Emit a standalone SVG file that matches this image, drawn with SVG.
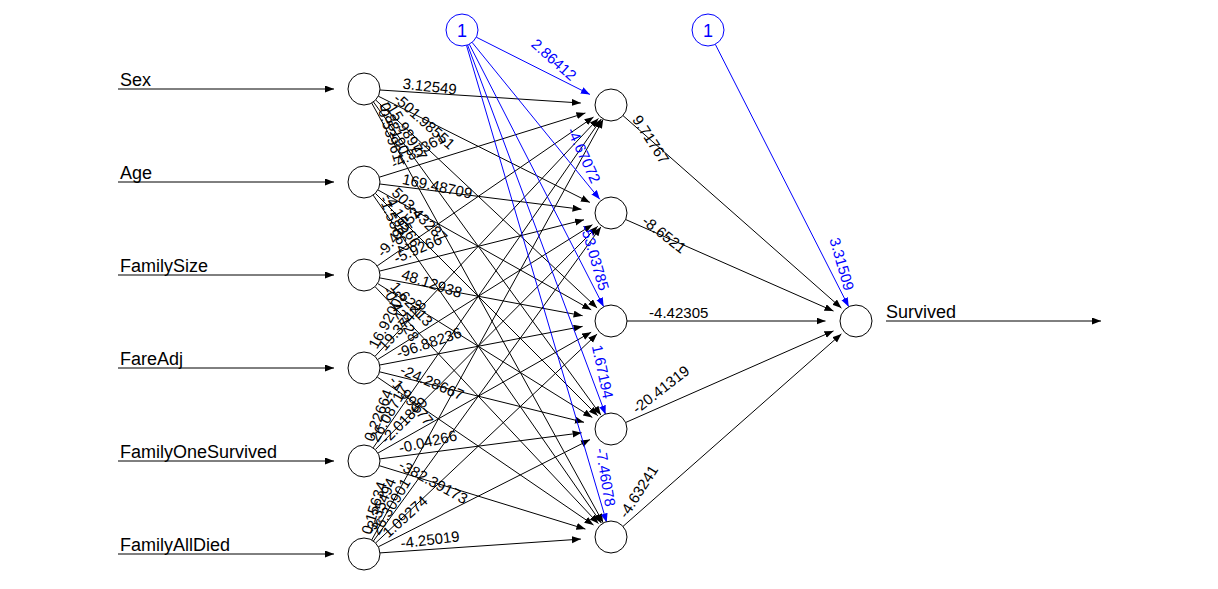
<svg xmlns="http://www.w3.org/2000/svg" width="1218" height="589" viewBox="0 0 1218 589">
<style>
text{font-family:"Liberation Sans",Arial,Helvetica,sans-serif}
.n{fill:#fff;stroke:#000;stroke-width:1}
.b{fill:#fff;stroke:#0000ff;stroke-width:1}
.lbl{font-size:18px;fill:#000}
.w{font-size:15px;fill:#000}
.wb{font-size:15px;fill:#0000ff;text-anchor:end}
.bt{font-size:18px;fill:#0000ff;text-anchor:middle}
.c{stroke:#000;stroke-width:1;fill:none;marker-end:url(#ak)}
.cb{stroke:#0000ff;stroke-width:1;fill:none;marker-end:url(#abl)}
</style>
<defs>
<marker id="ak" markerWidth="10" markerHeight="8" refX="9" refY="3.5" orient="auto" markerUnits="userSpaceOnUse"><path d="M0,0 L9,3.5 L0,7 z" fill="#000"/></marker>
<marker id="abl" markerWidth="10" markerHeight="8" refX="9" refY="3.5" orient="auto" markerUnits="userSpaceOnUse"><path d="M0,0 L9,3.5 L0,7 z" fill="#0000ff"/></marker>
</defs>
<rect width="1218" height="589" fill="#fff"/>
<g id="connectors">
<line class="c" x1="118" y1="89" x2="334" y2="89"/>
<line class="c" x1="118" y1="182" x2="334" y2="182"/>
<line class="c" x1="118" y1="275" x2="334" y2="275"/>
<line class="c" x1="118" y1="368" x2="334" y2="368"/>
<line class="c" x1="118" y1="461" x2="334" y2="461"/>
<line class="c" x1="118" y1="554" x2="334" y2="554"/>
<line class="c" x1="886" y1="321" x2="1101" y2="321"/>
<line class="c" x1="380" y1="90" x2="580.8" y2="103"/>
<line class="c" x1="378.3" y1="96.2" x2="589.9" y2="202.4"/>
<line class="c" x1="375.7" y1="100" x2="597.1" y2="307.9"/>
<line class="c" x1="373.4" y1="101.9" x2="600.9" y2="415.1"/>
<line class="c" x1="371.7" y1="103" x2="603.2" y2="522.8"/>
<line class="c" x1="379.3" y1="177.2" x2="585.4" y2="113"/>
<line class="c" x1="379.9" y1="184" x2="581.5" y2="209.3"/>
<line class="c" x1="377.9" y1="189.9" x2="591.2" y2="309.8"/>
<line class="c" x1="375.3" y1="193.3" x2="597.7" y2="415.7"/>
<line class="c" x1="373.1" y1="195.1" x2="601.3" y2="523"/>
<line class="c" x1="377.2" y1="265.9" x2="593.5" y2="117.1"/>
<line class="c" x1="379.5" y1="271.1" x2="584" y2="219.8"/>
<line class="c" x1="379.7" y1="277.9" x2="582.6" y2="315.7"/>
<line class="c" x1="377.6" y1="283.5" x2="592.3" y2="417.4"/>
<line class="c" x1="375" y1="286.6" x2="598.4" y2="523.6"/>
<line class="c" x1="375" y1="356.3" x2="598.4" y2="118.4"/>
<line class="c" x1="377.6" y1="359.5" x2="592.4" y2="224.7"/>
<line class="c" x1="379.7" y1="365" x2="582.6" y2="326.4"/>
<line class="c" x1="379.5" y1="371.8" x2="584" y2="422.3"/>
<line class="c" x1="377.2" y1="377" x2="593.5" y2="525"/>
<line class="c" x1="373.1" y1="447.9" x2="601.3" y2="119"/>
<line class="c" x1="375.3" y1="449.6" x2="597.7" y2="226.3"/>
<line class="c" x1="377.9" y1="453.1" x2="591.2" y2="332.2"/>
<line class="c" x1="379.9" y1="458.9" x2="581.6" y2="432.8"/>
<line class="c" x1="379.3" y1="465.7" x2="585.4" y2="529.1"/>
<line class="c" x1="371.7" y1="540" x2="603.2" y2="119.3"/>
<line class="c" x1="373.4" y1="541" x2="600.9" y2="226.9"/>
<line class="c" x1="375.6" y1="543" x2="597.1" y2="334.1"/>
<line class="c" x1="378.3" y1="546.8" x2="590" y2="439.6"/>
<line class="c" x1="380" y1="552.9" x2="580.9" y2="539.1"/>
<line class="c" x1="623" y1="115.6" x2="841.4" y2="308.1"/>
<line class="c" x1="625.6" y1="219.5" x2="833.5" y2="311.1"/>
<line class="c" x1="627" y1="321" x2="825.5" y2="321"/>
<line class="c" x1="625.6" y1="422.5" x2="833.5" y2="330.9"/>
<line class="c" x1="623" y1="526.4" x2="841.4" y2="333.9"/>
<line class="cb" x1="476.3" y1="37.2" x2="589.9" y2="94.4"/>
<line class="cb" x1="472.1" y1="42.4" x2="599.8" y2="199.3"/>
<line class="cb" x1="469.3" y1="44.2" x2="603.7" y2="306.7"/>
<line class="cb" x1="467.6" y1="45" x2="605.6" y2="414.5"/>
<line class="cb" x1="466.5" y1="45.4" x2="606.7" y2="522.4"/>
<line class="cb" x1="715.3" y1="44.3" x2="848.7" y2="306.7"/>
<g id="weights">
<text class="w" transform="translate(401.8 91.5) rotate(6.5)" y="-3">3.12549</text>
<text class="w" transform="translate(390.4 102.3) rotate(41.4)" y="-3">-501.98551</text>
<text class="w" transform="translate(381.4 105.4) rotate(58.8)" y="-3">-15.98977</text>
<text class="w" transform="translate(376.6 106.4) rotate(67.5)" y="-3">0.88190</text>
<text class="w" transform="translate(373.75 106.75) rotate(72.6)" y="-3">-0.53961</text>
<text class="w" transform="translate(396 172) rotate(-28.7)" y="-3">-4.85361</text>
<text class="w" transform="translate(400.9 186.6) rotate(12.4)" y="-3">169.48709</text>
<text class="w" transform="translate(388.75 196) rotate(44.7)" y="-3">503.43287</text>
<text class="w" transform="translate(380.6 198.6) rotate(60.4)" y="-3">-4.16566</text>
<text class="w" transform="translate(376.1 199.5) rotate(68.4)" y="-3">-1.58862</text>
<text class="w" transform="translate(385.9 259.9) rotate(-50.4)" y="-3">-9.41052</text>
<text class="w" transform="translate(397.75 266.5) rotate(-23.8)" y="-3">-5.9266</text>
<text class="w" transform="translate(399.5 281.6) rotate(18.1)" y="-3">48.12938</text>
<text class="w" transform="translate(387.4 289.5) rotate(47.6)" y="-3">1.62213</text>
<text class="w" transform="translate(379.75 291.75) rotate(61.8)" y="-3">-0.42128</text>
<text class="w" transform="translate(379.75 351.25) rotate(-61.9)" y="-3">16.92003</text>
<text class="w" transform="translate(387.25 353.4) rotate(-47.8)" y="-3">19.37428</text>
<text class="w" transform="translate(399.5 361.25) rotate(-18.5)" y="-3">-96.88236</text>
<text class="w" transform="translate(397.75 376.4) rotate(23.5)" y="-3">-24.28667</text>
<text class="w" transform="translate(385.9 383) rotate(50.3)" y="-3">-1.99577</text>
<text class="w" transform="translate(376.1 443.5) rotate(-68.5)" y="-3">0.22664</text>
<text class="w" transform="translate(380.6 444.4) rotate(-60.5)" y="-3">26.08717</text>
<text class="w" transform="translate(388.75 447) rotate(-44.9)" y="-3">-2.01869</text>
<text class="w" transform="translate(400.75 456.25) rotate(-12.8)" y="-3">-0.04266</text>
<text class="w" transform="translate(396 470.9) rotate(28.4)" y="-3">-382.39173</text>
<text class="w" transform="translate(373.75 536.1) rotate(-72.6)" y="-3">0.15634</text>
<text class="w" transform="translate(376.6 536.6) rotate(-67.6)" y="-3">-3.35494</text>
<text class="w" transform="translate(381.4 537.6) rotate(-58.9)" y="-3">26.30901</text>
<text class="w" transform="translate(390.25 540.75) rotate(-41.7)" y="-3">1.09274</text>
<text class="w" transform="translate(401.6 551.4) rotate(-6.9)" y="-3">-4.25019</text>
<text class="w" transform="translate(629.25 121.1) rotate(57.2)" y="-3">9.71767</text>
<text class="w" transform="translate(639.1 225.4) rotate(37.8)" y="-3">-8.6521</text>
<text class="w" transform="translate(649.1 321)" y="-3">-4.42305</text>
<text class="w" transform="translate(639.1 416.6) rotate(-37.8)" y="-3">-20.41319</text>
<text class="w" transform="translate(629.25 520.9) rotate(-57.2)" y="-3">-4.63241</text>
<text class="wb" transform="translate(568.8 83.8) rotate(41.5)" y="-3">2.86412</text>
<text class="wb" transform="translate(588.7 185.6) rotate(65.2)" y="-3">-4.67072</text>
<text class="wb" transform="translate(596.4 292.4) rotate(73.8)" y="-3">-53.03785</text>
<text class="wb" transform="translate(600.2 400) rotate(78)" y="-3">1.67194</text>
<text class="wb" transform="translate(602.4 507.8) rotate(80.5)" y="-3">-7.46078</text>
<text class="wb" transform="translate(841.5 292.4) rotate(73.9)" y="-3">3.31509</text>
</g>
</g>
<g id="in-sex"><circle class="n" cx="364" cy="89" r="16"/><text class="lbl" x="120" y="85.5">Sex</text></g>
<g id="in-age"><circle class="n" cx="364" cy="182" r="16"/><text class="lbl" x="120" y="178.5">Age</text></g>
<g id="in-familysize"><circle class="n" cx="364" cy="275" r="16"/><text class="lbl" x="120" y="271.5">FamilySize</text></g>
<g id="in-fareadj"><circle class="n" cx="364" cy="368" r="16"/><text class="lbl" x="120" y="364.5">FareAdj</text></g>
<g id="in-familyonesurvived"><circle class="n" cx="364" cy="461" r="16"/><text class="lbl" x="120" y="457.5">FamilyOneSurvived</text></g>
<g id="in-familyalldied"><circle class="n" cx="364" cy="554" r="16"/><text class="lbl" x="120" y="550.5">FamilyAllDied</text></g>
<g id="hidden-1"><circle class="n" cx="611" cy="105" r="16"/></g>
<g id="hidden-2"><circle class="n" cx="611" cy="213" r="16"/></g>
<g id="hidden-3"><circle class="n" cx="611" cy="321" r="16"/></g>
<g id="hidden-4"><circle class="n" cx="611" cy="429" r="16"/></g>
<g id="hidden-5"><circle class="n" cx="611" cy="537" r="16"/></g>
<g id="output"><circle class="n" cx="856" cy="321" r="16"/><text class="lbl" x="886" y="317.5">Survived</text></g>
<g id="bias-1"><circle class="b" cx="462" cy="30" r="16"/><text class="bt" x="462" y="36.5">1</text></g>
<g id="bias-2"><circle class="b" cx="708" cy="30" r="16"/><text class="bt" x="708" y="36.5">1</text></g>
</svg>
